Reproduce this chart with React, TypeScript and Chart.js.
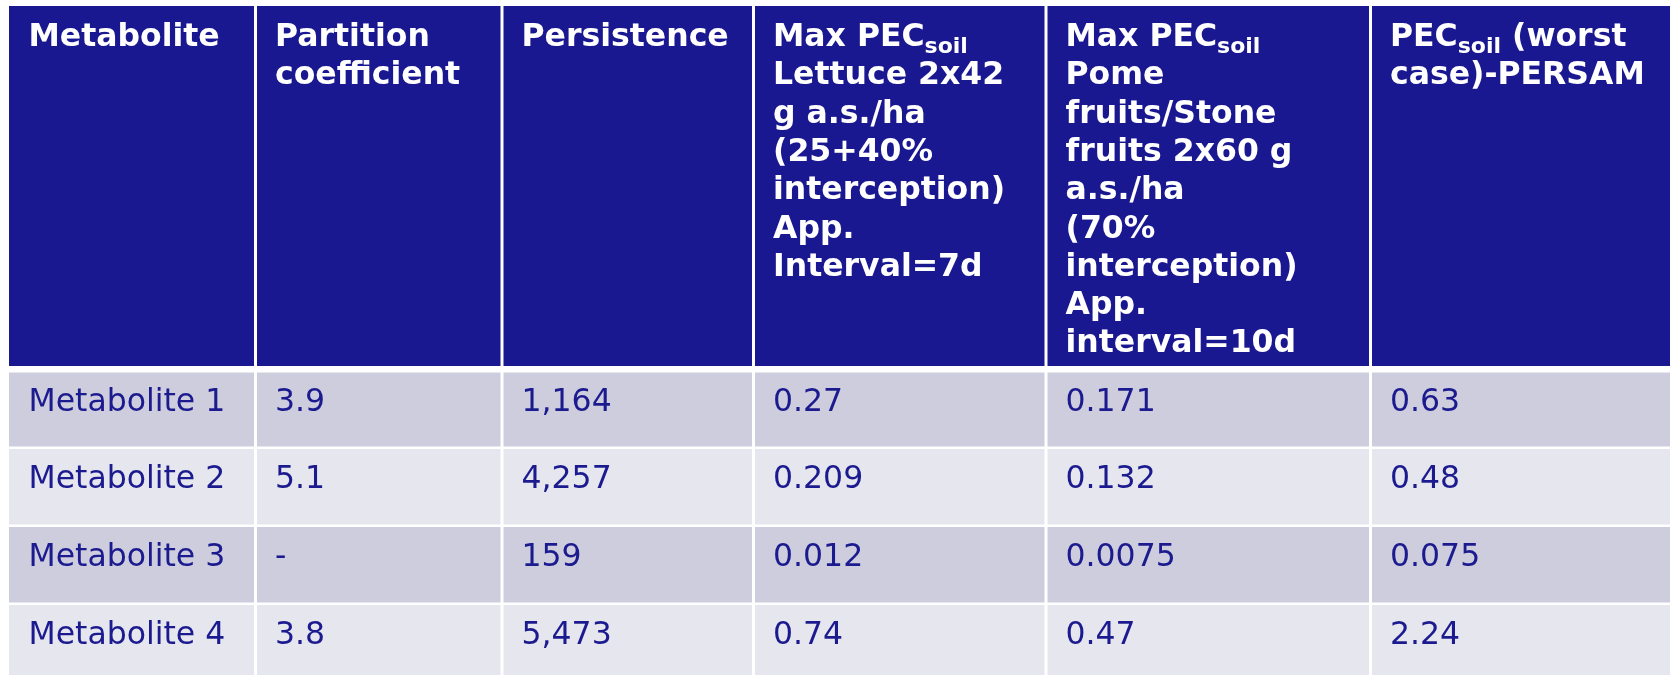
import React, { useEffect, useRef } from "react";
import { Chart, registerables } from "chart.js";

Chart.register(...registerables);

// ---------------- data ----------------
const headers: string[][] = [
  ["Metabolite"],
  ["Partition", "coefficient"],
  ["Persistence"],
  ["Max PEC_{soil}", "Lettuce 2x42", "g a.s./ha", "(25+40%", "interception)", "App.", "Interval=7d"],
  ["Max PEC_{soil}", "Pome", "fruits/Stone", "fruits 2x60 g", "a.s./ha", "(70%", "interception)", "App.", "interval=10d"],
  ["PEC_{soil} (worst", "case)-PERSAM"],
];
const metabolites = ["Metabolite 1", "Metabolite 2", "Metabolite 3", "Metabolite 4"];
const partitionCoefficient = ["3.9", "5.1", "-", "3.8"];
const persistence = ["1,164", "4,257", "159", "5,473"];
const maxPecLettuce = ["0.27", "0.209", "0.012", "0.74"];
const maxPecPomeStone = ["0.171", "0.132", "0.0075", "0.47"];
const pecWorstCasePersam = ["0.63", "0.48", "0.075", "2.24"];

// ---------------- layout / style ----------------
const TABLE_W = 1661;
const TABLE_H = 669;
const COL_EDGES = [0, 246.5, 493, 744.5, 1037, 1361.5, 1661];
const ROW_TOPS = [0, 366.5, 443, 521, 599];
const ROW_BOTTOMS = [360, 440.5, 518.5, 596.5, 690];
const GAP = 3;
const PAD_X = 19.5;
const HEADER_BASE = 40;
const HEADER_LINE = 38.3;
const BODY_BASE = 38.5;
const FONT = '"DejaVu Sans", Verdana, sans-serif';
const HEADER_BG = "#1a1890";
const BAND1 = "#cdcddd";
const BAND2 = "#e6e6ef";
const BODY_TEXT = "#1b1a8e";

function drawRich(ctx: CanvasRenderingContext2D, line: string, x: number, y: number) {
  const parts = line.split(/(_\{[^}]*\})/).filter((p) => p.length > 0);
  let cx = x;
  for (const p of parts) {
    if (p.startsWith("_{")) {
      const t = p.slice(2, -1);
      ctx.font = `bold 22px ${FONT}`;
      ctx.fillText(t, cx, y + 7);
      cx += ctx.measureText(t).width;
    } else {
      ctx.font = `bold 31.5px ${FONT}`;
      ctx.fillText(p, cx, y);
      cx += ctx.measureText(p).width;
    }
  }
}

const tablePlugin = {
  id: "tableCells",
  beforeDatasetsDraw(chart: any) {
    const { ctx } = chart;
    const xs = chart.scales.x;
    const ys = chart.scales.y;
    const columns = [
      metabolites,
      partitionCoefficient,
      persistence,
      maxPecLettuce,
      maxPecPomeStone,
      pecWorstCasePersam,
    ];
    ctx.save();
    for (let r = 0; r < ROW_TOPS.length; r++) {
      for (let c = 0; c < columns.length; c++) {
        const left = xs.getPixelForValue(COL_EDGES[c] + (c > 0 ? GAP / 2 : 0));
        const right = xs.getPixelForValue(COL_EDGES[c + 1] - (c < columns.length - 1 ? GAP / 2 : 0));
        const top = ys.getPixelForValue(ROW_TOPS[r]);
        const bottom = ys.getPixelForValue(ROW_BOTTOMS[r]);
        ctx.fillStyle = r === 0 ? HEADER_BG : r % 2 === 1 ? BAND1 : BAND2;
        ctx.fillRect(left, top, right - left, bottom - top);

        const tx = xs.getPixelForValue(COL_EDGES[c] + PAD_X);
        ctx.textBaseline = "alphabetic";
        ctx.textAlign = "left";
        if (r === 0) {
          ctx.fillStyle = "#ffffff";
          headers[c].forEach((line, i) => {
            const ty = ys.getPixelForValue(ROW_TOPS[0] + HEADER_BASE + i * HEADER_LINE);
            drawRich(ctx, line, tx, ty);
          });
        } else {
          ctx.fillStyle = BODY_TEXT;
          ctx.font = `31.5px ${FONT}`;
          const ty = ys.getPixelForValue(ROW_TOPS[r] + BODY_BASE);
          ctx.fillText(columns[c][r - 1], tx, ty);
        }
      }
    }
    ctx.restore();
  },
};

export default function App() {
  const ref = useRef<HTMLCanvasElement | null>(null);
  useEffect(() => {
    document.body.style.margin = "0";
    const canvas = ref.current;
    if (!canvas) return;
    const chart = new Chart(canvas, {
      type: "scatter",
      data: { datasets: [{ data: [], pointRadius: 0 }] },
      options: {
        animation: false,
        responsive: false,
        devicePixelRatio: 1,
        events: [],
        layout: { padding: { left: 9, top: 6, right: 0, bottom: 0 } },
        plugins: { legend: { display: false }, tooltip: { enabled: false } },
        scales: {
          x: { type: "linear", min: 0, max: TABLE_W, display: false },
          y: { type: "linear", min: 0, max: TABLE_H, reverse: true, display: false },
        },
      },
      plugins: [tablePlugin],
    } as any);
    return () => chart.destroy();
  }, []);
  return (
    <div style={{ position: "absolute", left: 0, top: 0, width: 1670, height: 675 }}>
      <canvas ref={ref} width={1670} height={675} style={{ width: 1670, height: 675, display: "block" }} />
    </div>
  );
}
